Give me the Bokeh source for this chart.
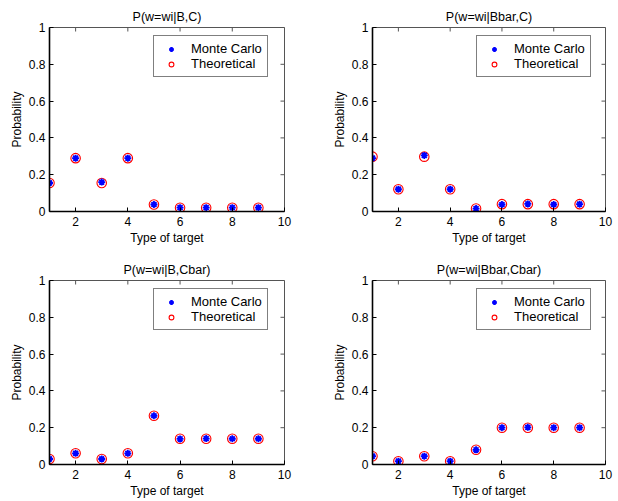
import math

from bokeh.plotting import figure
from bokeh.layouts import column, row
from bokeh.models import Range1d, FixedTicker, Legend, LegendItem
from bokeh.embed import file_html
from bokeh.resources import INLINE

# Target types 1..9
target_type = [1, 2, 3, 4, 5, 6, 7, 8, 9]

# P(w=wi|B,C)
mc_b_c = [0.155, 0.290, 0.160, 0.290, 0.038, 0.021, 0.021, 0.021, 0.021]
th_b_c = [0.155, 0.290, 0.155, 0.290, 0.038, 0.020, 0.020, 0.020, 0.020]

# P(w=wi|Bbar,C)
mc_bbar_c = [0.290, 0.121, 0.305, 0.121, 0.016, 0.038, 0.041, 0.038, 0.040]
th_bbar_c = [0.298, 0.121, 0.298, 0.121, 0.016, 0.040, 0.040, 0.040, 0.040]

# P(w=wi|B,Cbar)
mc_b_cbar = [0.030, 0.061, 0.030, 0.061, 0.265, 0.139, 0.141, 0.140, 0.140]
th_b_cbar = [0.030, 0.061, 0.030, 0.061, 0.265, 0.140, 0.140, 0.140, 0.140]

# P(w=wi|Bbar,Cbar)
mc_bbar_cbar = [0.045, 0.018, 0.045, 0.018, 0.080, 0.200, 0.202, 0.200, 0.200]
th_bbar_cbar = [0.045, 0.018, 0.045, 0.018, 0.080, 0.200, 0.200, 0.200, 0.200]

x_ticks = [2, 4, 6, 8, 10]
y_ticks = [0, 0.2, 0.4, 0.6, 0.8, 1]
x_min, x_max = 1, 10
y_min, y_max = 0, 1

FONT = "Liberation Sans"
BOX_GREY = "#555555"


def panel(title, mc, th, width, height, left, right, top, bottom):
    p = figure(width=width, height=height, output_backend="svg",
               toolbar_location=None, x_range=Range1d(x_min, x_max),
               y_range=Range1d(y_min, y_max),
               min_border_left=left, min_border_right=right,
               min_border_top=top, min_border_bottom=bottom,
               x_axis_label="Type of target", y_axis_label="Probability")
    p.title.text = title
    p.title.align = "center"
    p.title.text_font = FONT
    p.title.text_font_size = "12.5px"
    p.title.text_font_style = "normal"
    p.title.text_color = "black"
    p.title.offset = 0
    p.title.standoff = 8

    p.grid.visible = False
    p.outline_line_color = BOX_GREY
    p.outline_line_width = 1
    p.background_fill_color = "white"
    p.border_fill_color = "white"

    for ax in (p.xaxis[0], p.yaxis[0]):
        ax.axis_line_color = "black"
        ax.axis_line_width = 1.6
        ax.major_tick_in = 4
        ax.major_tick_out = 0
        ax.minor_tick_in = 0
        ax.minor_tick_out = 0
        ax.major_tick_line_color = "black"
        ax.major_label_text_font = FONT
        ax.major_label_text_font_size = "12px"
        ax.major_label_text_color = "black"
        ax.axis_label_text_font = FONT
        ax.axis_label_text_font_size = "12px"
        ax.axis_label_text_font_style = "normal"
        ax.axis_label_text_color = "black"

    p.xaxis.ticker = FixedTicker(ticks=x_ticks)
    p.yaxis.ticker = FixedTicker(ticks=y_ticks)
    p.yaxis.major_label_overrides = {0: "0", 1: "1"}
    p.xaxis.major_label_standoff = 5
    p.yaxis.major_label_standoff = 4
    p.xaxis.axis_label_standoff = 2
    p.yaxis.axis_label_standoff = 2

    # inward tick marks along the top and right edges of the box
    p.ray(x=x_ticks, y=[y_max] * len(x_ticks), length=4,
          length_units="screen", angle=-math.pi / 2,
          line_color=BOX_GREY, line_width=1)
    p.ray(x=[x_max] * len(y_ticks), y=y_ticks, length=4,
          length_units="screen", angle=math.pi,
          line_color=BOX_GREY, line_width=1)

    r_th = p.scatter(target_type, th, marker="circle", size=9.5,
                     fill_color=None, line_color="red", line_width=1.1)
    r_mc = p.scatter(target_type, mc, marker="asterisk", size=7,
                     line_color="blue", line_width=1.8)

    frame_h = height - top - bottom
    legend = Legend(items=[LegendItem(label="Monte Carlo", renderers=[r_mc]),
                           LegendItem(label="Theoretical", renderers=[r_th])],
                    location=(104, frame_h - 11 - 39),
                    label_text_font=FONT, label_text_font_size="13px",
                    label_text_line_height=0.9,
                    label_text_color="black",
                    glyph_width=24, glyph_height=12, label_height=12,
                    label_standoff=8, spacing=0, padding=5, margin=0,
                    border_line_color="black", border_line_width=1,
                    background_fill_color="white", background_fill_alpha=1)
    p.add_layout(legend, "center")
    return p


p1 = panel("P(w=wi|B,C)", mc_b_c, th_b_c, 309, 250, 49, 25, 27, 39)
p2 = panel("P(w=wi|Bbar,C)", mc_bbar_c, th_bbar_c, 309, 250, 63, 13, 27, 39)
p3 = panel("P(w=wi|B,Cbar)", mc_b_cbar, th_b_cbar, 309, 251, 49, 25, 30, 37)
p4 = panel("P(w=wi|Bbar,Cbar)", mc_bbar_cbar, th_bbar_cbar, 309, 251, 63, 13, 30, 37)

p = column(row(p1, p2, spacing=0), row(p3, p4, spacing=0), spacing=0)

open("out.html", "w").write(file_html(p, INLINE))
